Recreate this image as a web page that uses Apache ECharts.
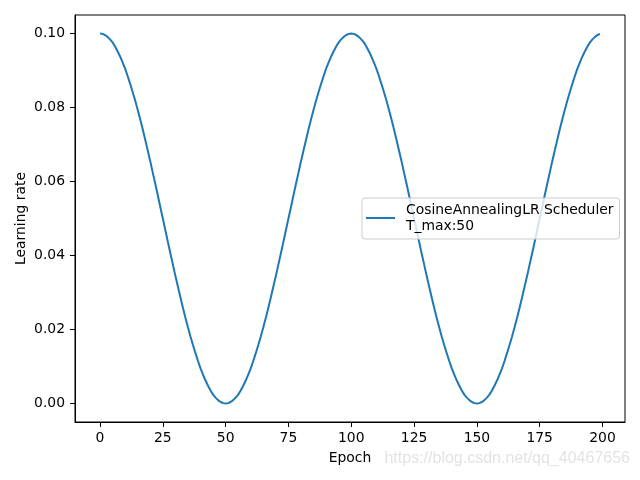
<!DOCTYPE html>
<html>
<head>
<meta charset="utf-8">
<script src="https://cdn.jsdelivr.net/npm/echarts@6/dist/echarts.min.js"></script>
<style>html,body{margin:0;padding:0;background:#fff}#c{width:640px;height:480px}</style>
</head>
<body>
<div id="c"></div>
<script>
const seriesName = 'CosineAnnealingLR Scheduler\nT_max:50';
const xTicks = [0, 25, 50, 75, 100, 125, 150, 175, 200];
const yTicks = [0, 0.02, 0.04, 0.06, 0.08, 0.10];
const xLabel = 'Epoch';
const yLabel = 'Learning rate';
const watermark = 'https://blog.csdn.net/qq_40467656';
// learning rate per epoch (epochs 0..199)
const learningRate = [
0.1, 0.0999, 0.0996, 0.0991, 0.0984, 0.0976, 0.0965, 0.0952, 0.0938, 0.0922,
0.0905, 0.0885, 0.0864, 0.0842, 0.0819, 0.0794, 0.0768, 0.0741, 0.0713, 0.0684,
0.0655, 0.0624, 0.0594, 0.0563, 0.0531, 0.05, 0.0469, 0.0437, 0.0406, 0.0376,
0.0345, 0.0316, 0.0287, 0.0259, 0.0232, 0.0206, 0.0181, 0.0158, 0.0136, 0.0115,
0.0095, 0.0078, 0.0062, 0.0048, 0.0035, 0.0024, 0.0016, 0.0009, 0.0004, 0.0001,
0, 0.0001, 0.0004, 0.0009, 0.0016, 0.0024, 0.0035, 0.0048, 0.0062, 0.0078,
0.0095, 0.0115, 0.0136, 0.0158, 0.0181, 0.0206, 0.0232, 0.0259, 0.0287, 0.0316,
0.0345, 0.0376, 0.0406, 0.0437, 0.0469, 0.05, 0.0531, 0.0563, 0.0594, 0.0624,
0.0655, 0.0684, 0.0713, 0.0741, 0.0768, 0.0794, 0.0819, 0.0842, 0.0864, 0.0885,
0.0905, 0.0922, 0.0938, 0.0952, 0.0965, 0.0976, 0.0984, 0.0991, 0.0996, 0.0999,
0.1, 0.0999, 0.0996, 0.0991, 0.0984, 0.0976, 0.0965, 0.0952, 0.0938, 0.0922,
0.0905, 0.0885, 0.0864, 0.0842, 0.0819, 0.0794, 0.0768, 0.0741, 0.0713, 0.0684,
0.0655, 0.0624, 0.0594, 0.0563, 0.0531, 0.05, 0.0469, 0.0437, 0.0406, 0.0376,
0.0345, 0.0316, 0.0287, 0.0259, 0.0232, 0.0206, 0.0181, 0.0158, 0.0136, 0.0115,
0.0095, 0.0078, 0.0062, 0.0048, 0.0035, 0.0024, 0.0016, 0.0009, 0.0004, 0.0001,
0, 0.0001, 0.0004, 0.0009, 0.0016, 0.0024, 0.0035, 0.0048, 0.0062, 0.0078,
0.0095, 0.0115, 0.0136, 0.0158, 0.0181, 0.0206, 0.0232, 0.0259, 0.0287, 0.0316,
0.0345, 0.0376, 0.0406, 0.0437, 0.0469, 0.05, 0.0531, 0.0563, 0.0594, 0.0624,
0.0655, 0.0684, 0.0713, 0.0741, 0.0768, 0.0794, 0.0819, 0.0842, 0.0864, 0.0885,
0.0905, 0.0922, 0.0938, 0.0952, 0.0965, 0.0976, 0.0984, 0.0991, 0.0996, 0.0999
];

const font = 'DejaVu Sans';
const fs = 13.9;
const chart = echarts.init(document.getElementById('c'), null, {renderer: 'canvas'});
const data = learningRate.map((v, i) => [i, v]);
chart.setOption({
  animation: false,
  backgroundColor: '#ffffff',
  textStyle: {fontFamily: font},
  grid: {left: 75, right: 15, top: 15, bottom: 58, show: true, borderColor: '#000', borderWidth: 1, backgroundColor: 'transparent'},
  xAxis: {
    type: 'value', min: -9.95, max: 208.95,
    name: xLabel, nameLocation: 'middle', nameGap: 29, nameMoveOverlap: false,
    nameTextStyle: {color: '#000', fontSize: fs, fontFamily: font},
    axisLine: {show: true, onZero: false, lineStyle: {color: '#000', width: 1}},
    axisTick: {show: true, inside: false, length: 5, customValues: xTicks, lineStyle: {color: '#000'}},
    axisLabel: {color: '#000', fontSize: fs, fontFamily: font, margin: 9, customValues: xTicks},
    splitLine: {show: false}
  },
  yAxis: {
    type: 'value', min: -0.005, max: 0.105,
    name: yLabel, nameLocation: 'middle', nameGap: 47, nameMoveOverlap: false,
    nameTextStyle: {color: '#000', fontSize: fs, fontFamily: font},
    axisLine: {show: true, onZero: false, lineStyle: {color: '#000', width: 1}},
    axisTick: {show: true, inside: false, length: 5, customValues: yTicks, lineStyle: {color: '#000'}},
    axisLabel: {color: '#000', fontSize: fs, fontFamily: font, margin: 10, customValues: yTicks, formatter: v => v.toFixed(2)},
    splitLine: {show: false}
  },
  legend: {
    left: 362, top: 198,
    padding: [4, 6, 5, 4],
    backgroundColor: 'rgba(255,255,255,0.8)',
    borderColor: '#cccccc', borderWidth: 1, borderRadius: 3,
    itemWidth: 29, itemHeight: 2,
    icon: 'rect',
    textStyle: {color: '#000', fontSize: fs, fontFamily: font, lineHeight: 16, padding: [0, 0, 0, 6]},
    data: [seriesName]
  },
  series: [{
    name: seriesName, type: 'line', data: data,
    showSymbol: false, symbol: 'none',
    lineStyle: {color: '#1f77b4', width: 2},
    itemStyle: {color: '#1f77b4'}
  }],
  graphic: [{
    type: 'text', right: 10, top: 451,
    style: {text: watermark, fill: '#e3e3e3', font: '16px "Liberation Sans"', textAlign: 'right'}
  }]
});
</script>
</body>
</html>
